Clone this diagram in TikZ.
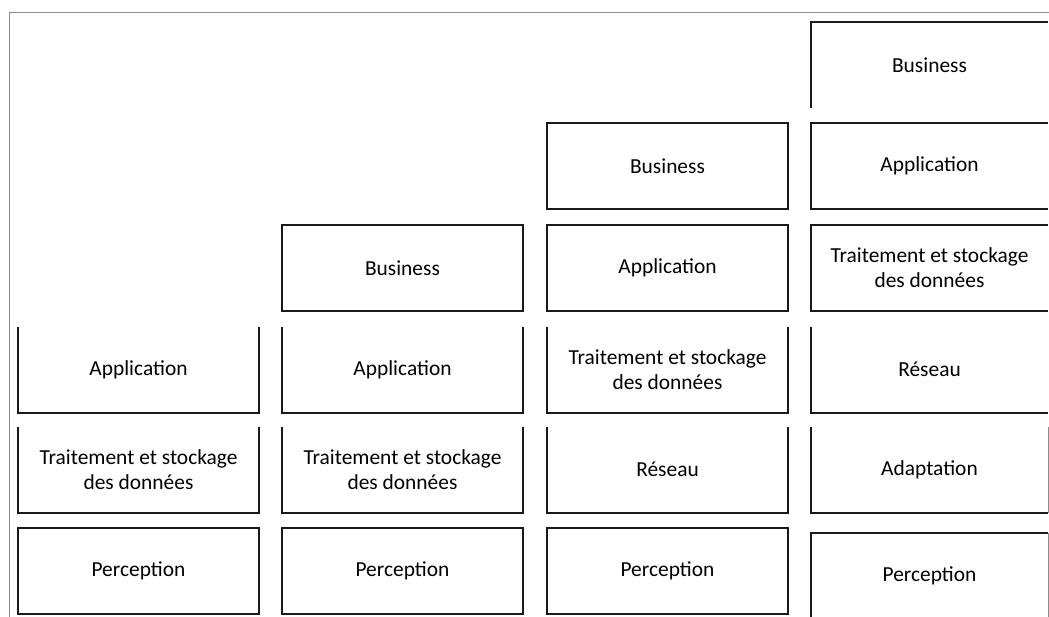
\documentclass[tikz,border=0pt]{standalone}
\usepackage{fontspec}
\setmainfont{Carlito}
\begin{document}
\begin{tikzpicture}[x=1bp, y=-1bp,
    layer/.style={rectangle, minimum width=241bp, minimum height=86bp, inner sep=0pt, outer sep=0pt, align=center, font=\fontsize{21.5}{25}\selectfont},
    box/.style={layer, draw=black!90, line width=2bp},
    side/.style={draw=black!90, line width=2bp},
    frame/.style={draw=black!45, line width=1bp}]
  \useasboundingbox (0,0) rectangle (1049,617);

  % Outer frame, only top and left show
  \coordinate (ftop) at (1049,13);
  \coordinate (fcorner) at (9,13);
  \coordinate (fbot) at (9,617);
  \draw[frame] (ftop) -- (fcorner) -- (fbot);

  % First stack: three layers
  \node[layer] (app1) at (138.5,369.5) {Application};
  \node[layer] (trt1) at (138.5,469.5) {Traitement et stockage\\des données};
  \node[box]   (perc1) at (138.5,571)  {Perception};

  % Second stack: four layers
  \node[box]   (biz2) at (402.5,268)   {Business};
  \node[layer] (app2) at (402.5,369.5) {Application};
  \node[layer] (trt2) at (402.5,469.5) {Traitement et stockage\\des données};
  \node[box]   (perc2) at (402.5,571)  {Perception};

  % Third stack: five layers
  \node[box]   (biz3) at (667.5,166)   {Business};
  \node[box]   (app3) at (667.5,268)   {Application};
  \node[layer] (trt3) at (667.5,369.5) {Traitement et stockage\\des données};
  \node[layer] (res3) at (667.5,469.5) {Réseau};
  \node[box]   (perc3) at (667.5,571)  {Perception};

  % Fourth stack: six layers, cut at the right
  \node[layer, minimum width=237bp] (biz4) at (929.5,65)    {Business};
  \node[layer, minimum width=237bp] (app4) at (929.5,166)   {Application};
  \node[layer, minimum width=237bp] (trt4) at (929.5,268)   {Traitement et stockage\\des données};
  \node[layer, minimum width=237bp] (res4) at (929.5,369.5) {Réseau};
  \node[layer, minimum width=237bp] (ada4) at (929.5,469.5) {Adaptation};
  \node[layer, minimum width=237bp] (perc4) at (929.5,576)  {Perception};

  % Open-top layers
  \foreach \n in {app1,trt1,app2,trt2,trt3,res3}
    \draw[side] (\n.north west) -- (\n.south west) -- (\n.south east) -- (\n.north east);

  % Fourth stack edges
  \draw[side] (biz4.south west) -- (biz4.north west) -- (biz4.north east);
  \foreach \n in {app4,trt4}
    \draw[side] (\n.north east) -- (\n.north west) -- (\n.south west) -- (\n.south east);
  \draw[side] (res4.north west) -- (res4.south west) -- (res4.south east);
  \draw[side] (ada4.north west) -- (ada4.south west) -- (ada4.south east);
  \draw[frame] (ada4.north east) -- (ada4.south east);
  \draw[side] (perc4.south west) -- (perc4.north west) -- (perc4.north east);
  \draw[frame] (perc4.north east) -- (perc4.south east);
\end{tikzpicture}
\end{document}
